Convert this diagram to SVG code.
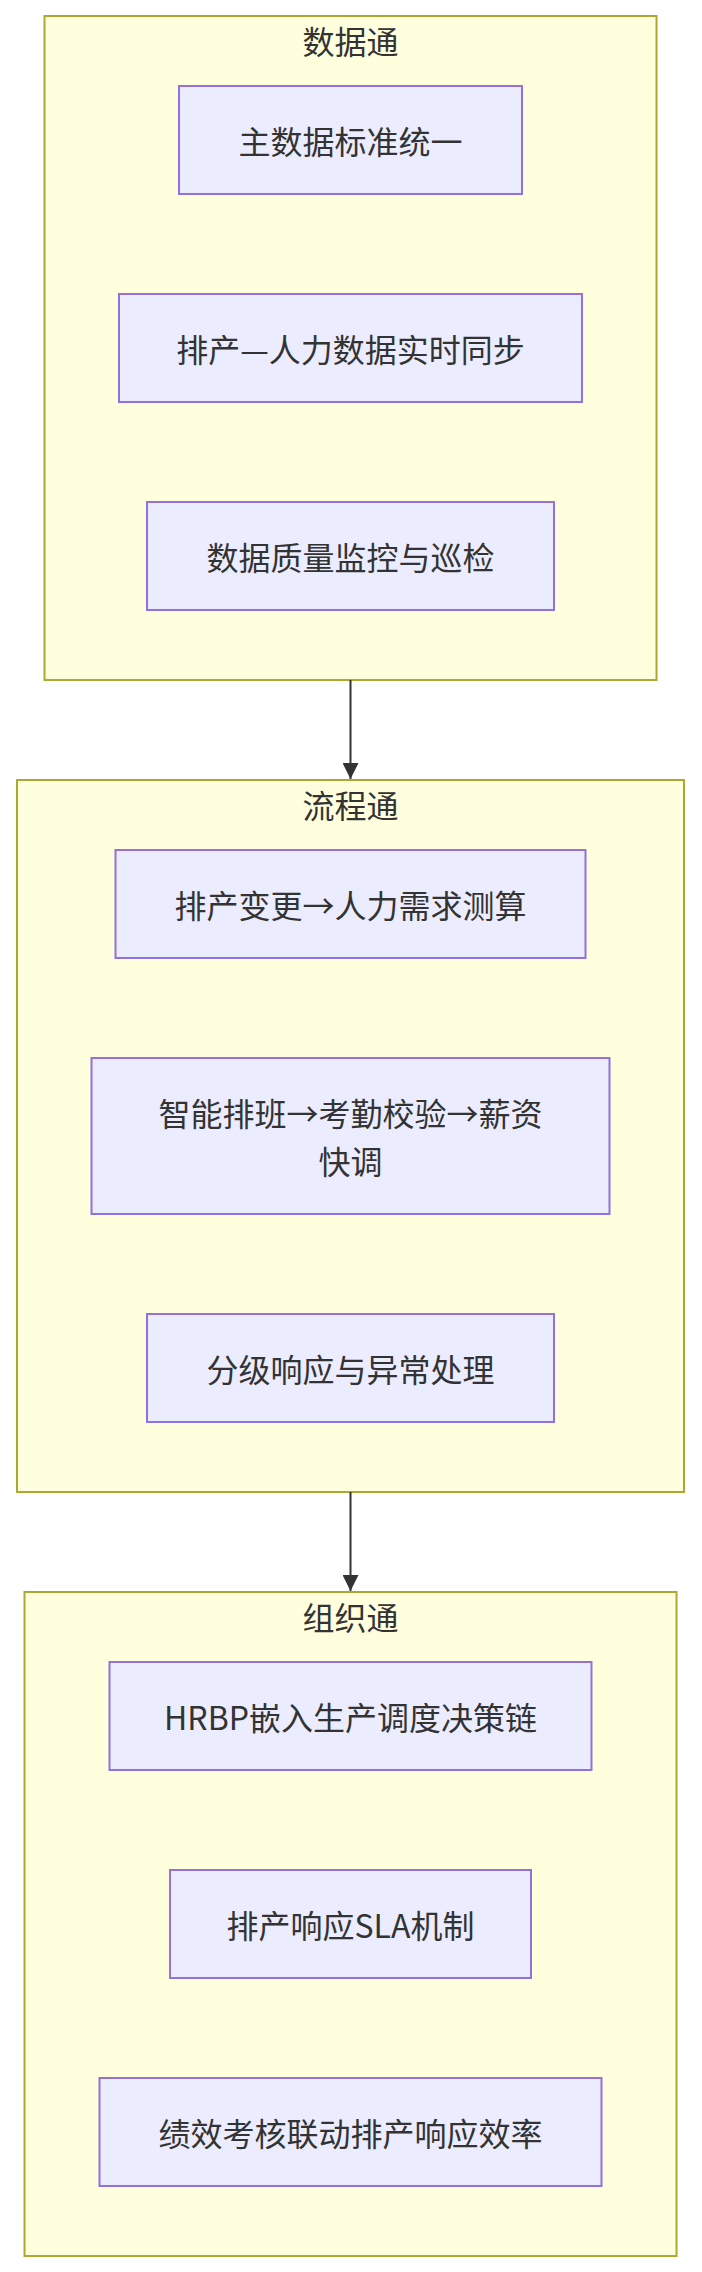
<svg xmlns="http://www.w3.org/2000/svg" width="702" height="2272" viewBox="0 0 702 2272">
<defs>
<style>
.cluster rect{fill:#ffffde;stroke:#aaaa33;stroke-width:2}
.node rect{fill:#ececff;stroke:#9370db;stroke-width:2}
text{font-family:"Noto Sans CJK SC","Noto Sans",sans-serif;font-size:32px;fill:#333333;text-anchor:middle;dominant-baseline:central}
.edge{stroke:#333333;stroke-width:2;fill:none}
</style>
<marker id="arrow" viewBox="0 0 10 10" refX="10" refY="5" markerUnits="userSpaceOnUse" markerWidth="16" markerHeight="16" orient="auto">
<path d="M0,0 L10,5 L0,10 z" fill="#333333"/>
</marker>
</defs>
<rect width="702" height="2272" fill="#ffffff"/>
<g id="cluster-data" class="cluster">
<rect x="44.5" y="16" width="612" height="664"/>
<text x="350.5" y="40">数据通</text>
</g>
<g id="cluster-process" class="cluster">
<rect x="17" y="780" width="667" height="712"/>
<text x="350.5" y="804">流程通</text>
</g>
<g id="cluster-org" class="cluster">
<rect x="24.5" y="1592" width="652" height="664"/>
<text x="350.5" y="1616">组织通</text>
</g>
<g id="edges">
<line class="edge" x1="350.5" y1="680" x2="350.5" y2="779" marker-end="url(#arrow)"/>
<line class="edge" x1="350.5" y1="1492" x2="350.5" y2="1591" marker-end="url(#arrow)"/>
</g>
<g id="n1" class="node"><rect x="179" y="86" width="343" height="108"/><text x="350.5" y="140">主数据标准统一</text></g>
<g id="n2" class="node"><rect x="119" y="294" width="463" height="108"/><text x="350.5" y="348">排产—人力数据实时同步</text></g>
<g id="n3" class="node"><rect x="147" y="502" width="407" height="108"/><text x="350.5" y="556">数据质量监控与巡检</text></g>
<g id="n4" class="node"><rect x="115.5" y="850" width="470" height="108"/><text x="350.5" y="904">排产变更→人力需求测算</text></g>
<g id="n5" class="node"><rect x="91.5" y="1058" width="518" height="156"/><text x="350.5" y="1112">智能排班→考勤校验→薪资</text><text x="350.5" y="1160">快调</text></g>
<g id="n6" class="node"><rect x="147" y="1314" width="407" height="108"/><text x="350.5" y="1368">分级响应与异常处理</text></g>
<g id="n7" class="node"><rect x="109.5" y="1662" width="482" height="108"/><text x="350.5" y="1716">HRBP嵌入生产调度决策链</text></g>
<g id="n8" class="node"><rect x="170" y="1870" width="361" height="108"/><text x="350.5" y="1924">排产响应SLA机制</text></g>
<g id="n9" class="node"><rect x="99.5" y="2078" width="502" height="108"/><text x="350.5" y="2132">绩效考核联动排产响应效率</text></g>
</svg>
